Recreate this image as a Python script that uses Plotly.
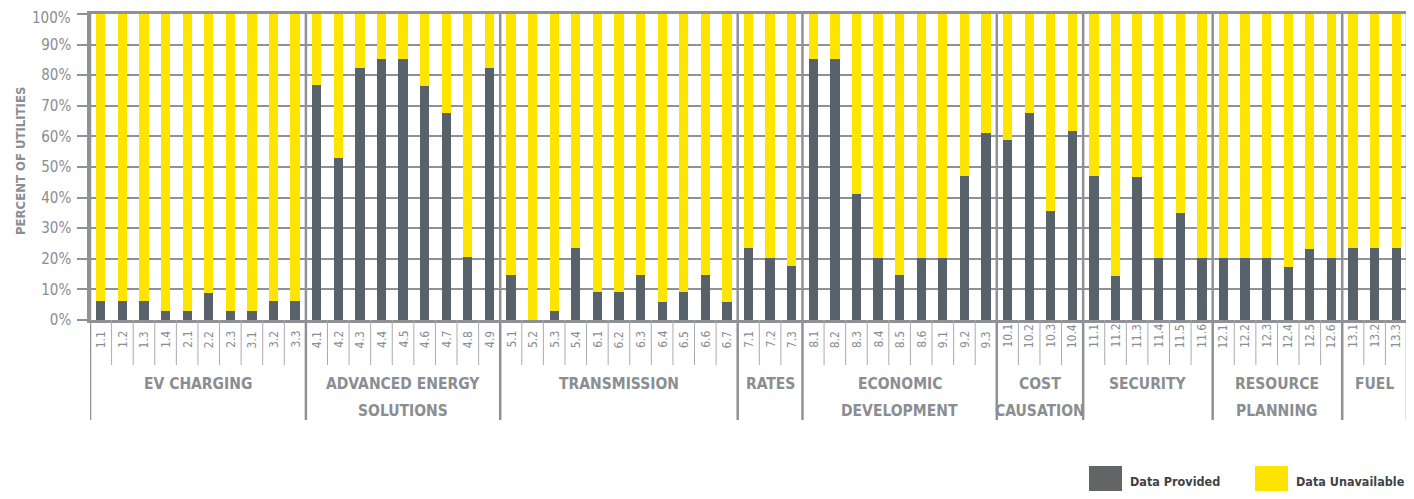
import plotly.graph_objects as go

# ---------------- data ----------------
codes = ["1.1", "1.2", "1.3", "1.4", "2.1", "2.2", "2.3", "3.1", "3.2", "3.3",
         "4.1", "4.2", "4.3", "4.4", "4.5", "4.6", "4.7", "4.8", "4.9",
         "5.1", "5.2", "5.3", "5.4", "6.1", "6.2", "6.3", "6.4", "6.5", "6.6", "6.7",
         "7.1", "7.2", "7.3",
         "8.1", "8.2", "8.3", "8.4", "8.5", "8.6", "9.1", "9.2", "9.3",
         "10.1", "10.2", "10.3", "10.4",
         "11.1", "11.2", "11.3", "11.4", "11.5", "11.6",
         "12.1", "12.2", "12.3", "12.4", "12.5", "12.6",
         "13.1", "13.2", "13.3"]

groups = ["EV CHARGING", "ADVANCED ENERGY|SOLUTIONS", "TRANSMISSION", "RATES",
          "ECONOMIC|DEVELOPMENT", "COST|CAUSATION", "SECURITY", "RESOURCE|PLANNING", "FUEL"]
group_sizes = [10, 9, 11, 3, 9, 4, 6, 6, 3]

provided = [6.3, 6.3, 6.3, 3.0, 3.0, 8.9, 3.0, 3.0, 6.3, 6.3,
            76.8, 52.9, 82.4, 85.3, 85.3, 76.5, 67.6, 20.6, 82.4,
            14.7, 0.0, 2.9, 23.5, 9.2, 9.2, 14.7, 5.9, 9.2, 14.7, 5.9,
            23.5, 20.3, 17.6,
            85.3, 85.3, 41.2, 20.3, 14.7, 20.3, 20.3, 47.1, 61.1,
            58.8, 67.6, 35.6, 61.8,
            47.1, 14.4, 46.7, 20.3, 35.0, 20.3,
            20.3, 20.3, 20.3, 17.3, 23.2, 20.3,
            23.5, 23.5, 23.5]

unavailable = [93.7, 93.7, 93.7, 97.0, 97.0, 91.1, 97.0, 97.0, 93.7, 93.7,
               23.2, 47.1, 17.6, 14.7, 14.7, 23.5, 32.4, 79.4, 17.6,
               85.3, 100.0, 97.1, 76.5, 90.8, 90.8, 85.3, 94.1, 90.8, 85.3, 94.1,
               76.5, 79.7, 82.4,
               14.7, 14.7, 58.8, 79.7, 85.3, 79.7, 79.7, 52.9, 38.9,
               41.2, 32.4, 64.4, 38.2,
               52.9, 85.6, 53.3, 79.7, 65.0, 79.7,
               79.7, 79.7, 79.7, 82.7, 76.8, 79.7,
               76.5, 76.5, 76.5]

y_ticks = [0, 10, 20, 30, 40, 50, 60, 70, 80, 90, 100]
y_tick_labels = ["0%", "10%", "20%", "30%", "40%", "50%", "60%", "70%", "80%", "90%", "100%"]

# ---------------- style ----------------
OFF = 8                      # default page margin around the figure
W, H = 1406, 483             # figure size (fits the window with the page margin)
PLOT_L, PLOT_R, PLOT_T, PLOT_B = 90, 1407, 14, 320   # plot area in window pixels
L, T = PLOT_L - OFF, PLOT_T - OFF
R = W - (PLOT_R - OFF)
B = H - (PLOT_B - OFF)
PW, PH = PLOT_R - PLOT_L, PLOT_B - PLOT_T

FONT = "'DejaVu Sans Condensed', 'Liberation Sans Narrow', 'Roboto Condensed', 'Arial Narrow', 'DejaVu Sans', sans-serif"
GREY_BAR = "#58626b"
YELLOW = "#fde500"
GRID = "#8e9195"
SEP_LIGHT = "#a9abaf"
TXT = "#8a8d91"
LEG_TXT = "#3f4245"


def px2x(px):
    return (px - PLOT_L) / PW


def py2y(py):
    return (PLOT_B - py) / PH


fig = go.Figure()
fig.add_bar(x=codes, y=provided, name="Data Provided", marker_color=GREY_BAR,
            marker_line_width=0, width=0.43)
fig.add_bar(x=codes, y=unavailable, name="Data Unavailable", marker_color=YELLOW,
            marker_line_width=0, width=0.43)

fig.update_layout(
    barmode="stack", width=W, height=H,
    margin=dict(l=L, r=R, t=T, b=B, pad=0, autoexpand=False),
    plot_bgcolor="white", paper_bgcolor="white", showlegend=False,
    font=dict(family=FONT, color=TXT),
)
fig.update_xaxes(type="category", range=[-0.5, len(codes) - 0.5], showticklabels=False,
                 showgrid=False, ticks="", showline=True, mirror=True, linecolor=GRID,
                 linewidth=2.5, zeroline=False, automargin=False)
# the top label ("100%") is drawn as an annotation so it stays inside the page
fig.update_yaxes(range=[0, 100], tickvals=y_ticks,
                 ticktext=y_tick_labels[:-1] + [""],
                 ticks="outside", ticklen=10, tickcolor=GRID, tickwidth=2,
                 ticklabelstandoff=3, automargin=False,
                 showgrid=True, gridcolor=GRID, gridwidth=2,
                 showline=True, linecolor=GRID, linewidth=2.5, zeroline=False,
                 tickfont=dict(family=FONT, size=15, color=TXT))

shapes = []
annotations = []

annotations.append(dict(x=px2x(72), y=py2y(8.2), xref="paper", yref="paper",
                        text=y_tick_labels[-1], showarrow=False, xanchor="right",
                        yanchor="top", borderpad=0,
                        font=dict(family=FONT, size=15, color=TXT)))

# group separators and labels
boundaries = [0]
for s in group_sizes:
    boundaries.append(boundaries[-1] + s)
group_set = set(boundaries)

for b in boundaries:
    shapes.append(dict(type="line", xref="x", yref="paper", x0=b - 0.5, x1=b - 0.5,
                       y0=py2y(420), y1=1, line=dict(color=GRID, width=2.5)))
for i in range(1, len(codes)):
    if i not in group_set:
        shapes.append(dict(type="line", xref="x", yref="paper", x0=i - 0.5, x1=i - 0.5,
                           y0=py2y(365), y1=0, line=dict(color=SEP_LIGHT, width=1)))

# category tick labels (rotated)
for i, c in enumerate(codes):
    annotations.append(dict(x=i, y=py2y(350), xref="x", yref="paper", text=c,
                            textangle=-90, showarrow=False, xanchor="center", yanchor="bottom",
                            font=dict(family=FONT, size=12, color=TXT)))

# group labels
for g, a, b in zip(groups, boundaries[:-1], boundaries[1:]):
    cx = (a + b - 1) / 2
    for k, line in enumerate(g.split("|")):
        annotations.append(dict(x=cx, y=py2y(384 + 27 * k), xref="x", yref="paper",
                                text="<b>" + line + "</b>", showarrow=False,
                                xanchor="center", yanchor="middle",
                                font=dict(family=FONT, size=15.5, color=TXT)))

# y axis title
annotations.append(dict(x=px2x(20), y=py2y(161), xref="paper", yref="paper",
                        text="<b>PERCENT OF UTILITIES</b>", textangle=-90, showarrow=False,
                        xanchor="center", yanchor="middle",
                        font=dict(family=FONT, size=13, color=TXT)))

# legend
legend_items = [("Data Provided", "#636566", 1089), ("Data Unavailable", YELLOW, 1255)]
for name, col, x0 in legend_items:
    shapes.append(dict(type="rect", xref="paper", yref="paper",
                       x0=px2x(x0), x1=px2x(x0 + 33), y0=py2y(491), y1=py2y(466),
                       fillcolor=col, line=dict(width=0)))
    annotations.append(dict(x=px2x(x0 + 39), y=py2y(482), xref="paper", yref="paper",
                            text="<b>" + name + "</b>", showarrow=False,
                            xanchor="left", yanchor="middle",
                            font=dict(family=FONT, size=12.5, color=LEG_TXT)))

fig.update_layout(shapes=shapes, annotations=annotations)
fig.write_html("out.html")
